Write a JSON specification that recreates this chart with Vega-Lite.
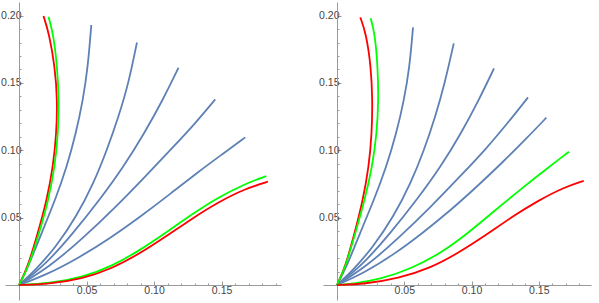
{
  "$schema": "https://vega.github.io/schema/vega-lite/v6.json",
  "padding": {"left": 0, "top": 2, "right": 6, "bottom": 3},
  "spacing": 42,
  "bounds": "flush",
  "config": {
    "view": {"stroke": null},
    "axis": {
      "grid": false,
      "title": null,
      "domainColor": "#9a9a9a",
      "tickColor": "#9a9a9a",
      "labelColor": "#444444",
      "labelFont": "Liberation Sans",
      "labelFontSize": 10.5
    },
    "line": {"strokeWidth": 1.8, "interpolate": "basis"}
  },
  "datasets": {
    "curves": [
      {"p": "L", "c": "LR1", "k": "red", "i": 0, "x": 0, "y": 0},
      {"p": "L", "c": "LR1", "k": "red", "i": 1, "x": 0.0065, "y": 0.0136},
      {"p": "L", "c": "LR1", "k": "red", "i": 2, "x": 0.0139, "y": 0.0384},
      {"p": "L", "c": "LR1", "k": "red", "i": 3, "x": 0.0206, "y": 0.0631},
      {"p": "L", "c": "LR1", "k": "red", "i": 4, "x": 0.0252, "y": 0.0878},
      {"p": "L", "c": "LR1", "k": "red", "i": 5, "x": 0.0277, "y": 0.1126},
      {"p": "L", "c": "LR1", "k": "red", "i": 6, "x": 0.0284, "y": 0.137},
      {"p": "L", "c": "LR1", "k": "red", "i": 7, "x": 0.0266, "y": 0.162},
      {"p": "L", "c": "LR1", "k": "red", "i": 8, "x": 0.0222, "y": 0.1869},
      {"p": "L", "c": "LR1", "k": "red", "i": 9, "x": 0.0181, "y": 0.1997},

      {"p": "L", "c": "LG1", "k": "green", "i": 0, "x": 0, "y": 0},
      {"p": "L", "c": "LG1", "k": "green", "i": 1, "x": 0.007, "y": 0.0136},
      {"p": "L", "c": "LG1", "k": "green", "i": 2, "x": 0.0149, "y": 0.0384},
      {"p": "L", "c": "LG1", "k": "green", "i": 3, "x": 0.0218, "y": 0.0631},
      {"p": "L", "c": "LG1", "k": "green", "i": 4, "x": 0.0265, "y": 0.0878},
      {"p": "L", "c": "LG1", "k": "green", "i": 5, "x": 0.0289, "y": 0.1126},
      {"p": "L", "c": "LG1", "k": "green", "i": 6, "x": 0.0296, "y": 0.137},
      {"p": "L", "c": "LG1", "k": "green", "i": 7, "x": 0.0283, "y": 0.162},
      {"p": "L", "c": "LG1", "k": "green", "i": 8, "x": 0.0253, "y": 0.1869},
      {"p": "L", "c": "LG1", "k": "green", "i": 9, "x": 0.0218, "y": 0.1992},

      {"p": "L", "c": "LB1", "k": "blue", "i": 0, "x": 0, "y": 0},
      {"p": "L", "c": "LB1", "k": "blue", "i": 1, "x": 0.0068, "y": 0.0136},
      {"p": "L", "c": "LB1", "k": "blue", "i": 2, "x": 0.0166, "y": 0.0384},
      {"p": "L", "c": "LB1", "k": "blue", "i": 3, "x": 0.0268, "y": 0.0631},
      {"p": "L", "c": "LB1", "k": "blue", "i": 4, "x": 0.0354, "y": 0.0878},
      {"p": "L", "c": "LB1", "k": "blue", "i": 5, "x": 0.0421, "y": 0.1126},
      {"p": "L", "c": "LB1", "k": "blue", "i": 6, "x": 0.0473, "y": 0.137},
      {"p": "L", "c": "LB1", "k": "blue", "i": 7, "x": 0.051, "y": 0.162},
      {"p": "L", "c": "LB1", "k": "blue", "i": 8, "x": 0.0535, "y": 0.193},

      {"p": "L", "c": "LB2", "k": "blue", "i": 0, "x": 0, "y": 0},
      {"p": "L", "c": "LB2", "k": "blue", "i": 1, "x": 0.0125, "y": 0.0115},
      {"p": "L", "c": "LB2", "k": "blue", "i": 2, "x": 0.0275, "y": 0.0285},
      {"p": "L", "c": "LB2", "k": "blue", "i": 3, "x": 0.0425, "y": 0.0508},
      {"p": "L", "c": "LB2", "k": "blue", "i": 4, "x": 0.0552, "y": 0.0755},
      {"p": "L", "c": "LB2", "k": "blue", "i": 5, "x": 0.065, "y": 0.1},
      {"p": "L", "c": "LB2", "k": "blue", "i": 6, "x": 0.0737, "y": 0.125},
      {"p": "L", "c": "LB2", "k": "blue", "i": 7, "x": 0.0811, "y": 0.1497},
      {"p": "L", "c": "LB2", "k": "blue", "i": 8, "x": 0.0873, "y": 0.18},

      {"p": "L", "c": "LB3", "k": "blue", "i": 0, "x": 0, "y": 0},
      {"p": "L", "c": "LB3", "k": "blue", "i": 1, "x": 0.019, "y": 0.0145},
      {"p": "L", "c": "LB3", "k": "blue", "i": 2, "x": 0.04, "y": 0.0384},
      {"p": "L", "c": "LB3", "k": "blue", "i": 3, "x": 0.0596, "y": 0.0631},
      {"p": "L", "c": "LB3", "k": "blue", "i": 4, "x": 0.0774, "y": 0.0878},
      {"p": "L", "c": "LB3", "k": "blue", "i": 5, "x": 0.0927, "y": 0.1126},
      {"p": "L", "c": "LB3", "k": "blue", "i": 6, "x": 0.1063, "y": 0.137},
      {"p": "L", "c": "LB3", "k": "blue", "i": 7, "x": 0.1181, "y": 0.1613},

      {"p": "L", "c": "LB4", "k": "blue", "i": 0, "x": 0, "y": 0},
      {"p": "L", "c": "LB4", "k": "blue", "i": 1, "x": 0.0225, "y": 0.0135},
      {"p": "L", "c": "LB4", "k": "blue", "i": 2, "x": 0.047, "y": 0.0345},
      {"p": "L", "c": "LB4", "k": "blue", "i": 3, "x": 0.0712, "y": 0.0575},
      {"p": "L", "c": "LB4", "k": "blue", "i": 4, "x": 0.0934, "y": 0.0805},
      {"p": "L", "c": "LB4", "k": "blue", "i": 5, "x": 0.1132, "y": 0.1015},
      {"p": "L", "c": "LB4", "k": "blue", "i": 6, "x": 0.1305, "y": 0.12},
      {"p": "L", "c": "LB4", "k": "blue", "i": 7, "x": 0.1453, "y": 0.1378},

      {"p": "L", "c": "LB5", "k": "blue", "i": 0, "x": 0, "y": 0},
      {"p": "L", "c": "LB5", "k": "blue", "i": 1, "x": 0.02, "y": 0.0075},
      {"p": "L", "c": "LB5", "k": "blue", "i": 2, "x": 0.043, "y": 0.0195},
      {"p": "L", "c": "LB5", "k": "blue", "i": 3, "x": 0.0664, "y": 0.034},
      {"p": "L", "c": "LB5", "k": "blue", "i": 4, "x": 0.09, "y": 0.0508},
      {"p": "L", "c": "LB5", "k": "blue", "i": 5, "x": 0.1125, "y": 0.068},
      {"p": "L", "c": "LB5", "k": "blue", "i": 6, "x": 0.1329, "y": 0.0842},
      {"p": "L", "c": "LB5", "k": "blue", "i": 7, "x": 0.1515, "y": 0.0978},
      {"p": "L", "c": "LB5", "k": "blue", "i": 8, "x": 0.1675, "y": 0.1096},

      {"p": "L", "c": "LG2", "k": "green", "i": 0, "x": 0, "y": 0},
      {"p": "L", "c": "LG2", "k": "green", "i": 1, "x": 0.0219, "y": 0.0012},
      {"p": "L", "c": "LG2", "k": "green", "i": 2, "x": 0.0465, "y": 0.0055},
      {"p": "L", "c": "LG2", "k": "green", "i": 3, "x": 0.0687, "y": 0.014},
      {"p": "L", "c": "LG2", "k": "green", "i": 4, "x": 0.0885, "y": 0.0252},
      {"p": "L", "c": "LG2", "k": "green", "i": 5, "x": 0.1083, "y": 0.0385},
      {"p": "L", "c": "LG2", "k": "green", "i": 6, "x": 0.128, "y": 0.0525},
      {"p": "L", "c": "LG2", "k": "green", "i": 7, "x": 0.1478, "y": 0.0652},
      {"p": "L", "c": "LG2", "k": "green", "i": 8, "x": 0.1675, "y": 0.0752},
      {"p": "L", "c": "LG2", "k": "green", "i": 9, "x": 0.1831, "y": 0.0809},

      {"p": "L", "c": "LR2", "k": "red", "i": 0, "x": 0, "y": 0},
      {"p": "L", "c": "LR2", "k": "red", "i": 1, "x": 0.0219, "y": 0.0007},
      {"p": "L", "c": "LR2", "k": "red", "i": 2, "x": 0.0465, "y": 0.0045},
      {"p": "L", "c": "LR2", "k": "red", "i": 3, "x": 0.0687, "y": 0.0122},
      {"p": "L", "c": "LR2", "k": "red", "i": 4, "x": 0.0885, "y": 0.0228},
      {"p": "L", "c": "LR2", "k": "red", "i": 5, "x": 0.1083, "y": 0.0357},
      {"p": "L", "c": "LR2", "k": "red", "i": 6, "x": 0.128, "y": 0.0493},
      {"p": "L", "c": "LR2", "k": "red", "i": 7, "x": 0.1478, "y": 0.0617},
      {"p": "L", "c": "LR2", "k": "red", "i": 8, "x": 0.1675, "y": 0.0715},
      {"p": "L", "c": "LR2", "k": "red", "i": 9, "x": 0.1843, "y": 0.0767},

      {"p": "R", "c": "RR1", "k": "red", "i": 0, "x": 0, "y": 0},
      {"p": "R", "c": "RR1", "k": "red", "i": 1, "x": 0.0062, "y": 0.0136},
      {"p": "R", "c": "RR1", "k": "red", "i": 2, "x": 0.0131, "y": 0.0384},
      {"p": "R", "c": "RR1", "k": "red", "i": 3, "x": 0.0193, "y": 0.0631},
      {"p": "R", "c": "RR1", "k": "red", "i": 4, "x": 0.0237, "y": 0.0878},
      {"p": "R", "c": "RR1", "k": "red", "i": 5, "x": 0.0259, "y": 0.1126},
      {"p": "R", "c": "RR1", "k": "red", "i": 6, "x": 0.0264, "y": 0.137},
      {"p": "R", "c": "RR1", "k": "red", "i": 7, "x": 0.0253, "y": 0.162},
      {"p": "R", "c": "RR1", "k": "red", "i": 8, "x": 0.0216, "y": 0.1869},
      {"p": "R", "c": "RR1", "k": "red", "i": 9, "x": 0.0173, "y": 0.1987},

      {"p": "R", "c": "RG1", "k": "green", "i": 0, "x": 0, "y": 0},
      {"p": "R", "c": "RG1", "k": "green", "i": 1, "x": 0.0064, "y": 0.0136},
      {"p": "R", "c": "RG1", "k": "green", "i": 2, "x": 0.0136, "y": 0.0384},
      {"p": "R", "c": "RG1", "k": "green", "i": 3, "x": 0.0206, "y": 0.0631},
      {"p": "R", "c": "RG1", "k": "green", "i": 4, "x": 0.0262, "y": 0.0878},
      {"p": "R", "c": "RG1", "k": "green", "i": 5, "x": 0.0296, "y": 0.1126},
      {"p": "R", "c": "RG1", "k": "green", "i": 6, "x": 0.0309, "y": 0.137},
      {"p": "R", "c": "RG1", "k": "green", "i": 7, "x": 0.0303, "y": 0.162},
      {"p": "R", "c": "RG1", "k": "green", "i": 8, "x": 0.0281, "y": 0.1869},
      {"p": "R", "c": "RG1", "k": "green", "i": 9, "x": 0.025, "y": 0.198},

      {"p": "R", "c": "RB1", "k": "blue", "i": 0, "x": 0, "y": 0},
      {"p": "R", "c": "RB1", "k": "blue", "i": 1, "x": 0.0072, "y": 0.0136},
      {"p": "R", "c": "RB1", "k": "blue", "i": 2, "x": 0.017, "y": 0.0384},
      {"p": "R", "c": "RB1", "k": "blue", "i": 3, "x": 0.0275, "y": 0.0631},
      {"p": "R", "c": "RB1", "k": "blue", "i": 4, "x": 0.0367, "y": 0.0878},
      {"p": "R", "c": "RB1", "k": "blue", "i": 5, "x": 0.0441, "y": 0.1126},
      {"p": "R", "c": "RB1", "k": "blue", "i": 6, "x": 0.0498, "y": 0.137},
      {"p": "R", "c": "RB1", "k": "blue", "i": 7, "x": 0.054, "y": 0.162},
      {"p": "R", "c": "RB1", "k": "blue", "i": 8, "x": 0.0565, "y": 0.1913},

      {"p": "R", "c": "RB2", "k": "blue", "i": 0, "x": 0, "y": 0},
      {"p": "R", "c": "RB2", "k": "blue", "i": 1, "x": 0.0124, "y": 0.0115},
      {"p": "R", "c": "RB2", "k": "blue", "i": 2, "x": 0.027, "y": 0.0285},
      {"p": "R", "c": "RB2", "k": "blue", "i": 3, "x": 0.0421, "y": 0.0508},
      {"p": "R", "c": "RB2", "k": "blue", "i": 4, "x": 0.0548, "y": 0.0755},
      {"p": "R", "c": "RB2", "k": "blue", "i": 5, "x": 0.0647, "y": 0.1},
      {"p": "R", "c": "RB2", "k": "blue", "i": 6, "x": 0.0731, "y": 0.125},
      {"p": "R", "c": "RB2", "k": "blue", "i": 7, "x": 0.0801, "y": 0.1497},
      {"p": "R", "c": "RB2", "k": "blue", "i": 8, "x": 0.0868, "y": 0.1794},

      {"p": "R", "c": "RB3", "k": "blue", "i": 0, "x": 0, "y": 0},
      {"p": "R", "c": "RB3", "k": "blue", "i": 1, "x": 0.0186, "y": 0.0145},
      {"p": "R", "c": "RB3", "k": "blue", "i": 2, "x": 0.0396, "y": 0.0384},
      {"p": "R", "c": "RB3", "k": "blue", "i": 3, "x": 0.0592, "y": 0.0631},
      {"p": "R", "c": "RB3", "k": "blue", "i": 4, "x": 0.0771, "y": 0.0878},
      {"p": "R", "c": "RB3", "k": "blue", "i": 5, "x": 0.0922, "y": 0.1126},
      {"p": "R", "c": "RB3", "k": "blue", "i": 6, "x": 0.1053, "y": 0.137},
      {"p": "R", "c": "RB3", "k": "blue", "i": 7, "x": 0.1167, "y": 0.1608},

      {"p": "R", "c": "RB4", "k": "blue", "i": 0, "x": 0, "y": 0},
      {"p": "R", "c": "RB4", "k": "blue", "i": 1, "x": 0.0215, "y": 0.0135},
      {"p": "R", "c": "RB4", "k": "blue", "i": 2, "x": 0.046, "y": 0.035},
      {"p": "R", "c": "RB4", "k": "blue", "i": 3, "x": 0.0703, "y": 0.0585},
      {"p": "R", "c": "RB4", "k": "blue", "i": 4, "x": 0.092, "y": 0.0812},
      {"p": "R", "c": "RB4", "k": "blue", "i": 5, "x": 0.111, "y": 0.1013},
      {"p": "R", "c": "RB4", "k": "blue", "i": 6, "x": 0.1271, "y": 0.1205},
      {"p": "R", "c": "RB4", "k": "blue", "i": 7, "x": 0.142, "y": 0.1393},

      {"p": "R", "c": "RB5", "k": "blue", "i": 0, "x": 0, "y": 0},
      {"p": "R", "c": "RB5", "k": "blue", "i": 1, "x": 0.0205, "y": 0.0092},
      {"p": "R", "c": "RB5", "k": "blue", "i": 2, "x": 0.042, "y": 0.0225},
      {"p": "R", "c": "RB5", "k": "blue", "i": 3, "x": 0.0635, "y": 0.0385},
      {"p": "R", "c": "RB5", "k": "blue", "i": 4, "x": 0.0845, "y": 0.0555},
      {"p": "R", "c": "RB5", "k": "blue", "i": 5, "x": 0.1045, "y": 0.0735},
      {"p": "R", "c": "RB5", "k": "blue", "i": 6, "x": 0.1235, "y": 0.0915},
      {"p": "R", "c": "RB5", "k": "blue", "i": 7, "x": 0.1405, "y": 0.1085},
      {"p": "R", "c": "RB5", "k": "blue", "i": 8, "x": 0.1556, "y": 0.1242},

      {"p": "R", "c": "RG2", "k": "green", "i": 0, "x": 0, "y": 0},
      {"p": "R", "c": "RG2", "k": "green", "i": 1, "x": 0.0107, "y": 0.0007},
      {"p": "R", "c": "RG2", "k": "green", "i": 2, "x": 0.033, "y": 0.0045},
      {"p": "R", "c": "RG2", "k": "green", "i": 3, "x": 0.0552, "y": 0.0122},
      {"p": "R", "c": "RG2", "k": "green", "i": 4, "x": 0.0775, "y": 0.0238},
      {"p": "R", "c": "RG2", "k": "green", "i": 5, "x": 0.0973, "y": 0.0385},
      {"p": "R", "c": "RG2", "k": "green", "i": 6, "x": 0.1172, "y": 0.0552},
      {"p": "R", "c": "RG2", "k": "green", "i": 7, "x": 0.137, "y": 0.0715},
      {"p": "R", "c": "RG2", "k": "green", "i": 8, "x": 0.1569, "y": 0.0872},
      {"p": "R", "c": "RG2", "k": "green", "i": 9, "x": 0.1725, "y": 0.099},

      {"p": "R", "c": "RR2", "k": "red", "i": 0, "x": 0, "y": 0},
      {"p": "R", "c": "RR2", "k": "red", "i": 1, "x": 0.0206, "y": 0.0008},
      {"p": "R", "c": "RR2", "k": "red", "i": 2, "x": 0.0454, "y": 0.0048},
      {"p": "R", "c": "RR2", "k": "red", "i": 3, "x": 0.07, "y": 0.0128},
      {"p": "R", "c": "RR2", "k": "red", "i": 4, "x": 0.0899, "y": 0.0237},
      {"p": "R", "c": "RR2", "k": "red", "i": 5, "x": 0.1097, "y": 0.0364},
      {"p": "R", "c": "RR2", "k": "red", "i": 6, "x": 0.1296, "y": 0.0503},
      {"p": "R", "c": "RR2", "k": "red", "i": 7, "x": 0.1494, "y": 0.0627},
      {"p": "R", "c": "RR2", "k": "red", "i": 8, "x": 0.1693, "y": 0.0728},
      {"p": "R", "c": "RR2", "k": "red", "i": 9, "x": 0.1834, "y": 0.0774}
    ]
  },
  "hconcat": [
    {
      "width": 276,
      "height": 298,
      "data": {"name": "curves"},
      "transform": [{"filter": "datum.p == 'L'"}],
      "layer": [
        {
          "transform": [{"filter": "datum.k == 'blue'"}],
          "mark": {"type": "line", "color": "#5E81B5", "clip": true},
          "encoding": {
            "x": {"field": "x", "type": "quantitative", "scale": {"domain": [-0.0104, 0.194], "nice": false, "zero": false},
                  "axis": {"orient": "bottom", "offset": -15, "values": [0.01, 0.02, 0.03, 0.04, 0.06, 0.07, 0.08, 0.09, 0.11, 0.12, 0.13, 0.14, 0.16, 0.17, 0.18, 0.19], "labels": false, "domain": false, "tickSize": -2}},
            "y": {"field": "y", "type": "quantitative", "scale": {"domain": [-0.0111, 0.2101], "nice": false, "zero": false},
                  "axis": {"orient": "left", "offset": -14, "values": [0.01, 0.02, 0.03, 0.04, 0.06, 0.07, 0.08, 0.09, 0.11, 0.12, 0.13, 0.14, 0.16, 0.17, 0.18, 0.19], "labels": false, "domain": false, "tickSize": -2}},
            "detail": {"field": "c"},
            "order": {"field": "i"}
          }
        },
        {
          "transform": [{"filter": "datum.k != 'blue'"}],
          "mark": {"type": "line", "clip": true},
          "encoding": {
            "x": {"field": "x", "type": "quantitative",
                  "axis": {"orient": "bottom", "offset": -15, "values": [0.05, 0.1, 0.15], "format": ".2f", "tickSize": -4, "labelPadding": 4}},
            "y": {"field": "y", "type": "quantitative",
                  "axis": {"orient": "left", "offset": -14, "values": [0.05, 0.1, 0.15, 0.2], "format": ".2f", "tickSize": -4, "labelPadding": 2}},
            "color": {"field": "k", "type": "nominal", "scale": {"domain": ["red", "green"], "range": ["#FF0000", "#00FF00"]}, "legend": null},
            "detail": {"field": "c"},
            "order": {"field": "i"}
          }
        }
      ],
      "resolve": {"axis": {"x": "independent", "y": "independent"}}
    },
    {
      "width": 268,
      "height": 298,
      "data": {"name": "curves"},
      "transform": [{"filter": "datum.p == 'R'"}],
      "layer": [
        {
          "transform": [{"filter": "datum.k == 'blue'"}],
          "mark": {"type": "line", "color": "#5E81B5", "clip": true},
          "encoding": {
            "x": {"field": "x", "type": "quantitative", "scale": {"domain": [-0.0104, 0.1888], "nice": false, "zero": false},
                  "axis": {"orient": "bottom", "offset": -15, "values": [0.01, 0.02, 0.03, 0.04, 0.06, 0.07, 0.08, 0.09, 0.11, 0.12, 0.13, 0.14, 0.16, 0.17, 0.18], "labels": false, "domain": false, "tickSize": -2}},
            "y": {"field": "y", "type": "quantitative", "scale": {"domain": [-0.0111, 0.2101], "nice": false, "zero": false},
                  "axis": {"orient": "left", "offset": -14, "values": [0.01, 0.02, 0.03, 0.04, 0.06, 0.07, 0.08, 0.09, 0.11, 0.12, 0.13, 0.14, 0.16, 0.17, 0.18, 0.19], "labels": false, "domain": false, "tickSize": -2}},
            "detail": {"field": "c"},
            "order": {"field": "i"}
          }
        },
        {
          "transform": [{"filter": "datum.k != 'blue'"}],
          "mark": {"type": "line", "clip": true},
          "encoding": {
            "x": {"field": "x", "type": "quantitative",
                  "axis": {"orient": "bottom", "offset": -15, "values": [0.05, 0.1, 0.15], "format": ".2f", "tickSize": -4, "labelPadding": 4}},
            "y": {"field": "y", "type": "quantitative",
                  "axis": {"orient": "left", "offset": -14, "values": [0.05, 0.1, 0.15, 0.2], "format": ".2f", "tickSize": -4, "labelPadding": 2}},
            "color": {"field": "k", "type": "nominal", "scale": {"domain": ["red", "green"], "range": ["#FF0000", "#00FF00"]}, "legend": null},
            "detail": {"field": "c"},
            "order": {"field": "i"}
          }
        }
      ],
      "resolve": {"axis": {"x": "independent", "y": "independent"}}
    }
  ]
}
